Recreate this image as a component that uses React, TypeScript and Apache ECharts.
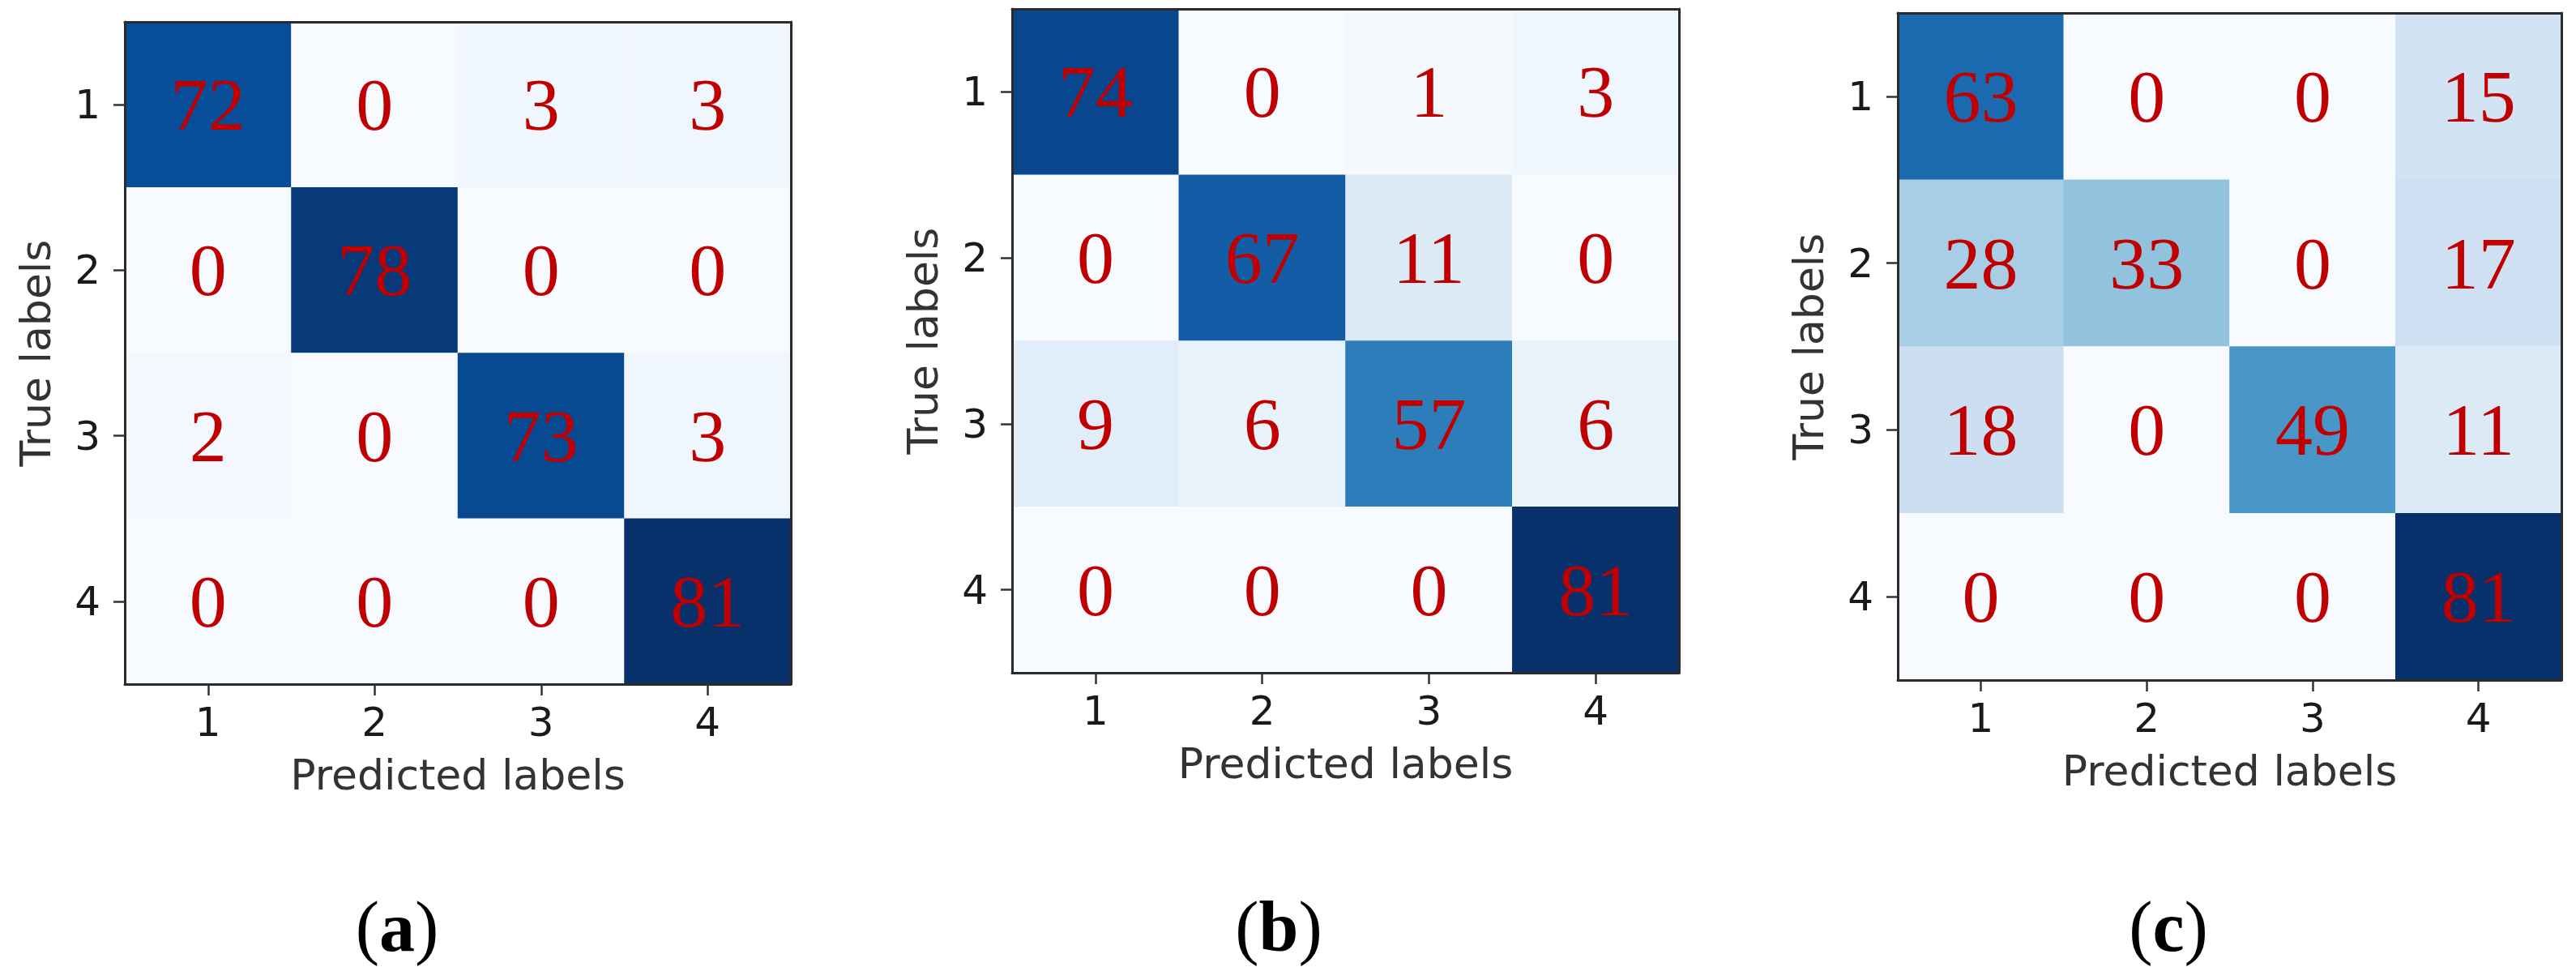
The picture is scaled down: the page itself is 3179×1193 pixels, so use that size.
import React, { useEffect, useRef } from "react";
import * as echarts from "echarts";

const categories = ["1", "2", "3", "4"];
const matrixA = [
  [72, 0, 3, 3],
  [0, 78, 0, 0],
  [2, 0, 73, 3],
  [0, 0, 0, 81],
];
const matrixB = [
  [74, 0, 1, 3],
  [0, 67, 11, 0],
  [9, 6, 57, 6],
  [0, 0, 0, 81],
];
const matrixC = [
  [63, 0, 0, 15],
  [28, 33, 0, 17],
  [18, 0, 49, 11],
  [0, 0, 0, 81],
];
const panelLetters = ["a", "b", "c"];
const xAxisName = "Predicted labels";
const yAxisName = "True labels";
const blues = ["#f7fbff", "#deebf7", "#c6dbef", "#9ecae1", "#6baed6", "#4292c6", "#2171b5", "#08519c", "#08306b"];

const matrices = [matrixA, matrixB, matrixC];
const grids = [
  { left: 154, top: 27, width: 822, height: 817 },
  { left: 1249, top: 11, width: 823, height: 819 },
  { left: 2342, top: 16, width: 819, height: 823 },
];
const letterX = [490, 1578, 2676];

export default function App() {
  const ref = useRef<HTMLDivElement>(null);
  useEffect(() => {
    if (!ref.current) return;
    const chart = echarts.init(ref.current, undefined, { renderer: "svg" });
    const axisFont = "DejaVu Sans";
    const spine = { show: true, lineStyle: { color: "#2b2b2b", width: 3 } };
    const mainX = grids.map((_, i) => ({
      type: "category",
      gridIndex: i,
      data: categories,
      position: "bottom",
      z: 10,
      axisLine: spine,
      axisTick: { show: true, alignWithLabel: true, length: 14, lineStyle: { color: "#333", width: 2.5 } },
      axisLabel: { fontSize: 50, color: "#1a1a1a", fontFamily: axisFont, margin: 22 },
      splitLine: { show: false },
      name: xAxisName,
      nameLocation: "middle",
      nameGap: 86,
      nameTextStyle: { fontSize: 52, color: "#333", fontFamily: axisFont },
    }));
    const topX = grids.map((_, i) => ({
      type: "category",
      gridIndex: i,
      data: categories,
      position: "top",
      z: 10,
      axisLine: spine,
      axisTick: { show: false },
      axisLabel: { show: false },
      splitLine: { show: false },
    }));
    const mainY = grids.map((_, i) => ({
      type: "category",
      gridIndex: i,
      data: categories,
      inverse: true,
      position: "left",
      z: 10,
      axisLine: spine,
      axisTick: { show: true, alignWithLabel: true, length: 14, lineStyle: { color: "#333", width: 2.5 } },
      axisLabel: { fontSize: 50, color: "#1a1a1a", fontFamily: axisFont, margin: 30 },
      splitLine: { show: false },
      name: yAxisName,
      nameLocation: "middle",
      nameRotate: 90,
      nameGap: 84,
      nameTextStyle: { fontSize: 52, color: "#333", fontFamily: axisFont },
    }));
    const rightY = grids.map((_, i) => ({
      type: "category",
      gridIndex: i,
      data: categories,
      inverse: true,
      position: "right",
      z: 10,
      axisLine: spine,
      axisTick: { show: false },
      axisLabel: { show: false },
      splitLine: { show: false },
    }));
    const option: any = {
      animation: false,
      backgroundColor: "#ffffff",
      grid: grids.map((g) => ({ ...g, show: false, containLabel: false })),
      xAxis: [...mainX, ...topX],
      yAxis: [...mainY, ...rightY],
      visualMap: {
        type: "continuous",
        show: false,
        min: 0,
        max: 81,
        dimension: 2,
        seriesIndex: [0, 1, 2],
        inRange: { color: blues },
      },
      series: matrices.map((m, i) => ({
        type: "heatmap",
        xAxisIndex: i,
        yAxisIndex: i,
        data: m.flatMap((row, r) => row.map((v, c) => [c, r, v])),
        label: {
          show: true,
          formatter: (p: any) => String(p.value[2]),
          color: "#c00000",
          fontFamily: "Liberation Serif, Times New Roman, serif",
          fontSize: 92,
        },
        itemStyle: { borderWidth: 0 },
        emphasis: { disabled: true },
      })),
      graphic: panelLetters.map((l, i) => ({
        type: "text",
        x: letterX[i],
        y: 1143,
        style: {
          text: `{p|(}{b|${l}}{p|)}`,
          align: "center",
          verticalAlign: "middle",
          rich: {
            p: { fontFamily: "Liberation Serif", fontSize: 88, fill: "#000", fontWeight: "normal" },
            b: { fontFamily: "Liberation Serif", fontSize: 88, fill: "#000", fontWeight: "bold" },
          },
        },
      })),
    };
    chart.setOption(option);
    return () => chart.dispose();
  }, []);
  return (
    <div
      ref={ref}
      style={{ position: "absolute", left: 0, top: 0, width: 3179, height: 1193, background: "#fff" }}
    />
  );
}
